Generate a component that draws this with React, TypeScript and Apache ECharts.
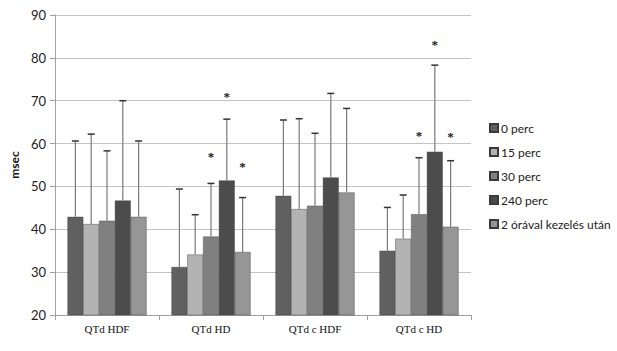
import React, { useEffect, useRef } from "react";
import * as echarts from "echarts";

const categories = ["QTd HDF", "QTd HD", "QTd c HDF", "QTd c HD"];
const seriesNames = ["0 perc", "15 perc", "30 perc", "240 perc", "2 órával kezelés után"];
const yTicks = [20, 30, 40, 50, 60, 70, 80, 90];

const means0 = [42.9, 31.2, 47.8, 35.0];
const means1 = [41.2, 34.1, 44.7, 37.8];
const means2 = [42.0, 38.3, 45.5, 43.5];
const means3 = [46.7, 51.4, 52.1, 58.1];
const means4 = [42.9, 34.7, 48.6, 40.6];

const upper0 = [60.6, 49.4, 65.5, 45.1];
const upper1 = [62.2, 43.4, 65.8, 48.0];
const upper2 = [58.3, 50.7, 62.4, 56.7];
const upper3 = [70.0, 65.7, 71.7, 78.3];
const upper4 = [60.6, 47.4, 68.2, 56.0];

const stars0: (number | null)[] = [null, null, null, null];
const stars1: (number | null)[] = [null, null, null, null];
const stars2: (number | null)[] = [null, 57.1, null, 62.0];
const stars3: (number | null)[] = [null, 71.1, null, 83.2];
const stars4: (number | null)[] = [null, 54.6, null, 61.7];

const colors = ["#606060", "#b3b3b3", "#808080", "#4c4c4c", "#969696"];

const allMeans = [means0, means1, means2, means3, means4];
const allUpper = [upper0, upper1, upper2, upper3, upper4];
const allStars = [stars0, stars1, stars2, stars3, stars4];

const CAT_GAP = 0.24;

export default function App() {
  const ref = useRef<HTMLDivElement>(null);
  useEffect(() => {
    document.body.style.margin = "0";
    const chart = echarts.init(ref.current!, null, { renderer: "svg" });
    const n = seriesNames.length;
    const barSeries = seriesNames.map((name, s) => ({
      name,
      type: "bar",
      data: allMeans[s],
      barGap: "0%",
      barCategoryGap: CAT_GAP * 100 + "%",
      itemStyle: { color: colors[s], borderColor: "#3a3a3a", borderWidth: 0.4 },
    }));
    const errSeries = seriesNames.map((name, s) => ({
      name: name + "_err",
      type: "custom",
      z: 5,
      data: categories.map((c, i) => [i, allMeans[s][i], allUpper[s][i]]),
      encode: { x: 0, y: [1, 2] },
      renderItem: (params: any, api: any) => {
        const i = api.value(0);
        const catW = api.size([1, 0])[0];
        const barW = (catW * (1 - CAT_GAP)) / n;
        const base = api.coord([i, api.value(1)]);
        const top = api.coord([i, api.value(2)]);
        const x = base[0] + (s - (n - 1) / 2) * barW;
        const children: any[] = [
          {
            type: "line",
            shape: { x1: x, y1: base[1], x2: x, y2: top[1] },
            style: { stroke: "#7a7a7a", lineWidth: 1.2 },
          },
          {
            type: "line",
            shape: { x1: x - 3.5, y1: top[1], x2: x + 3.5, y2: top[1] },
            style: { stroke: "#333", lineWidth: 1.5 },
          },
        ];
        const st = allStars[s][params.dataIndex];
        if (st != null) {
          const sp = api.coord([i, st]);
          children.push({
            type: "text",
            style: {
              x: x,
              y: sp[1],
              text: "*",
              fill: "#1a1a1a",
              font: "bold 13px 'Liberation Serif'",
              align: "center",
              verticalAlign: "middle",
            },
          });
        }
        return { type: "group", children };
      },
    }));
    chart.setOption({
      animation: false,
      backgroundColor: "#fff",
      grid: { left: 55, right: 146, top: 15, bottom: 36 },
      legend: {
        data: seriesNames,
        orient: "vertical",
        left: 484,
        top: 117,
        itemGap: 12,
        itemWidth: 8,
        itemHeight: 8,
        icon: "rect",
        textStyle: { fontFamily: "Lato", fontSize: 12, color: "#222", padding: [0, 0, 0, -2] },
      },
      xAxis: {
        type: "category",
        data: categories,
        axisLine: { lineStyle: { color: "#a0a0a0" } },
        axisTick: { show: true, length: 5, lineStyle: { color: "#a0a0a0" } },
        axisLabel: { fontFamily: "Liberation Serif", fontSize: 11, color: "#111", margin: 8 },
      },
      yAxis: {
        type: "value",
        min: yTicks[0],
        max: yTicks[yTicks.length - 1],
        interval: 10,
        name: "msec",
        nameLocation: "middle",
        nameGap: 32,
        nameTextStyle: { fontFamily: "Lato", fontWeight: "bold", fontSize: 12, color: "#111" },
        axisLine: { show: true, lineStyle: { color: "#a0a0a0" } },
        axisTick: { show: true, length: 5, lineStyle: { color: "#a0a0a0" } },
        axisLabel: { fontFamily: "Lato", fontSize: 13, color: "#222", margin: 9 },
        splitLine: { lineStyle: { color: "#c4c4c4" } },
      },
      series: [...barSeries, ...errSeries],
    });
    return () => chart.dispose();
  }, []);
  return <div ref={ref} style={{ width: 617, height: 351 }} />;
}
